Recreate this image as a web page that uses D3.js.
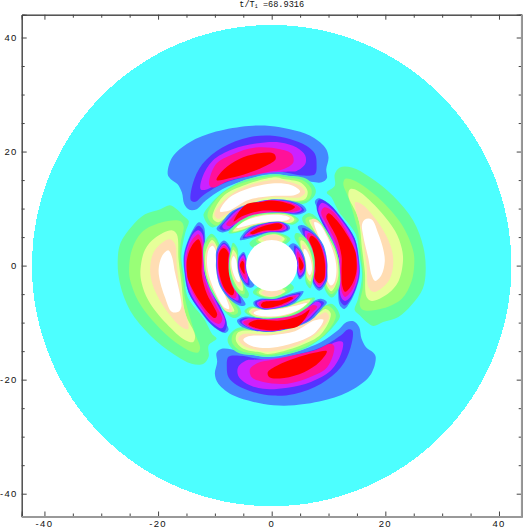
<!DOCTYPE html>
<html lang="en">
<head>
<meta charset="UTF-8">
<title>t/T1 contour</title>
<script src="https://d3js.org/d3.v7.min.js"></script>
<style>
    html, body { margin: 0; background: #fff; }
    svg { display: block; }
    .lbl { font: 9.5px "Liberation Sans", sans-serif; letter-spacing: 1.3px; fill: #111; }
    .ttl { font: 8.6px "Liberation Mono", monospace; fill: #111; }
</style>
</head>
<body>
<script>
const titleText = "t/T";
const titleSub = "1";
const titleValue = " =68.9316";
const majorTicks = [-40, -20, 0, 20, 40];
const minorTicks = [-35, -30, -25, -15, -10, -5, 5, 10, 15, 25, 30, 35];
const discRadius = 42.2;
const holeRadius = 4.5;

const coolLevels = ["#4488ff", "#5533ff", "#cc22ff", "#ff1199", "#ff0000"];
const warmLevels = ["#66ff99", "#99ff77", "#e6ff99", "#ffddb3", "#ffffff"];

// contours, outermost first; the lower half is the same lobes turned 180 degrees
const top6 = [
  [[-18.3,16],[-17.5,19],[-14.5,21.6],[-9.8,23.5],[-4,24.5],[-.3,24.5],[3.2,23.9],[6.7,22.8],[9.4,20.7],[10,19],[9.6,16.9],[9.7,15.3],[8.8,14.6],[5.6,15],[2.6,15.8],[-.3,16],[-4,15.2],[-8.7,13.4],[-11.6,11.4],[-13.2,9.9],[-14.5,9.8],[-15.4,10.8],[-15.8,12.8],[-16.6,14.3],[-17.8,15.2]],
  [[-14.2,11.4],[-13.9,14.3],[-12.2,17.8],[-8.7,20.7],[-4,22.5],[-.3,22.8],[3.2,22.2],[6.1,21],[7.6,19.6],[7.9,17.8],[7.6,16],[5.6,15.8],[2.6,16.3],[-.3,16.6],[-4,15.7],[-8.7,14.3],[-12.2,12.2],[-13.4,11.2]],
  [[-12.5,13.4],[-12.2,15.5],[-10.4,18.4],[-6.9,20.4],[-2.8,21.4],[1.5,21.6],[4.4,20.7],[5.9,19.3],[5.9,17.8],[4.4,16.6],[3.2,16.5],[-.3,16.3],[-4,15.8],[-8.7,14.6],[-11.6,13.3]],
  [[-11,14.2],[-9.8,17.8],[-6.9,19.5],[-2.8,20.7],[1.5,20.4],[3.5,19.6],[3.8,18.1],[2,16.9],[-.3,16.5],[-3.4,15.8],[-7.5,14.9],[-10.4,13.7]],
  [[-9.7,15],[-8.4,16.9],[-5.7,18.7],[-2.2,19.7],[.4,19.6],[.7,18.7],[-1,17.5],[-4,16.3],[-7.5,15.3]]
];
const right6 = [
  [[9.7,12.8],[11.1,14],[11.1,16],[12,17.2],[14.1,17.2],[17.3,15.5],[21.4,12.2],[24.9,7.9],[26.7,3.2],[27.1,-.9],[26.6,-4],[24.6,-6.9],[22.3,-9],[19.6,-9.9],[17.9,-10.6],[16.7,-9.9],[15.5,-8.7],[14.6,-7.8],[15.2,-5.8],[15.9,-1.7],[15.4,2],[14.8,5.5],[11.8,9.5],[10.5,12]],
  [[12.9,15.2],[13.8,15.2],[16.1,14],[19.6,11.1],[23.2,6.7],[24.9,2.6],[25.1,.5],[24.6,-2.8],[22.9,-5.8],[19.6,-7.5],[16.1,-7.8],[15.5,-6.9],[16,-4],[16.1,-1.5],[15.6,3],[15.2,6],[13.5,11.9],[12.6,14.3]],
  [[13.8,13.4],[15.2,13.1],[18.5,10.2],[21.7,6.1],[22.9,3],[23.1,.7],[22.3,-2.8],[20.5,-4.9],[17.6,-6.2],[16.7,-5.5],[16.4,-1.1],[15.9,3],[15.2,8.4],[13.5,12.2]],
  [[14.7,11.1],[15.8,10.8],[18.5,7.9],[20.8,3.8],[21.4,.7],[20.8,-2.3],[19.3,-4],[17.9,-4.6],[17,-3.7],[16.7,.1],[15.8,6.1],[14.7,10.2]],
  [[16.4,8.1],[17.6,8.1],[18.8,5.5],[19.6,3],[19.9,.7],[19.3,-1.7],[18.2,-2.7],[17.6,-1.7],[17,1.3],[16.1,5.3],[15.9,7.2]]
];
const top5 = [
  [[-12,9],[-11,10.5],[-8.7,12.8],[-5.1,14.9],[.7,16],[2.6,15.8],[5.9,15.3],[7.6,13.7],[7.7,12.6],[6.1,11],[2.6,10.7],[-.3,10.6],[-4,9.9],[-7.5,8.2],[-10.4,6.7],[-11.3,7.3],[-11.9,8.4]],
  [[-11.3,8.7],[-9.2,12.2],[-5.7,14.3],[.7,15.7],[2.6,15.5],[5.6,14.9],[7,13.4],[6.6,11.7],[2.6,11],[-.3,10.9],[-3.4,10.2],[-7.5,8.4],[-9.8,7]],
  [[-10.4,8.4],[-8.7,12],[-5.1,14],[.7,15.5],[2,15.2],[5,14.6],[6.3,13.1],[5.9,11.7],[2.6,11.4],[-.3,11.6],[-3.4,10.5],[-8.1,8.4],[-9.5,7.6]],
  [[-10.1,9],[-7.5,12.2],[-3.4,14.3],[1.3,15.1],[2.6,14.8],[5,14],[5.9,12.8],[5,12],[2,12],[-.3,12],[-4,11],[-8.1,8.9],[-9.5,8.2]],
  [[-9.1,9.5],[-7.6,11.8],[-4.1,13.5],[0,14.4],[3.5,14.1],[5,13],[4.1,12.4],[0,12.2],[-4.1,11.5],[-7.6,9.6]]
];
const right5 = [
  [[8.2,11.8],[10,10.9],[12.6,8],[14.7,4.5],[15.4,1],[15.5,-1.7],[14.9,-4],[13.8,-6.4],[12.8,-7.6],[12,-7],[11.7,-5],[12,-.2],[11.4,3.9],[10.3,6.8],[8.5,9.5],[7.6,11.2]],
  [[8.4,11.6],[10.2,10.7],[12.5,8],[14.6,4.8],[15.3,1],[15.4,-1.5],[14.8,-4],[13.7,-6.2],[12.9,-7],[12.1,-6.3],[11.8,-1],[11.6,1.6],[10.6,4],[9.2,6.8],[7.9,10.2]],
  [[8.8,11],[10.3,10.2],[12.4,7.8],[14.4,4.6],[15.2,1],[15.3,-1.5],[14.7,-3.8],[13.7,-5.7],[12.9,-6.2],[12.2,-5.5],[11.9,-1],[11.8,1.6],[10.8,4.2],[9.5,6.9],[8.2,9.8]],
  [[9.2,10.2],[10.6,9.6],[12.6,7],[14.2,4],[15,1],[15,-1.5],[14.5,-3.6],[13.6,-5],[12.9,-5.5],[12.3,-4.5],[12.1,-1],[12,1.6],[11,4.6],[9.8,7],[8.7,9.3]],
  [[10,9.2],[11.4,8],[13.5,5],[14.7,2.5],[14.9,1.3],[14.9,-1.1],[14.1,-3.4],[12.9,-4.6],[12.4,-3.5],[12.3,-.8],[12.3,1.6],[11.4,5],[10.1,7.4],[9.6,8.6]]
];
const top4 = [
  [[-9.7,6.4],[-8.8,7.6],[-6.9,9.6],[-3.4,11],[0,11.6],[3.2,11.4],[5.6,10.5],[6.1,9.6],[5,9],[2.6,9],[-.3,9],[-3.4,8.1],[-6.9,6.4],[-8.7,5.8]],
  [[-9.2,6.5],[-8.2,7.8],[-6.5,9.6],[-3.2,10.9],[0,11.55],[3.4,11.2],[5.2,10.3],[5.7,9.7],[4.8,9.2],[2.6,9.2],[-.3,9.2],[-3.4,8.4],[-6.8,6.8],[-8.4,6.1]],
  [[-8.7,6.8],[-7.6,8.2],[-5.9,9.8],[-2.8,11],[0,11.5],[3.3,11.1],[5,10.3],[5.3,9.8],[4.4,9.3],[2.6,9.3],[-.3,9.3],[-3,8.6],[-6.5,7.2],[-8,6.3]],
  [[-8,7.2],[-6.9,8.5],[-5.4,9.8],[-2.4,11],[0,11.45],[3,11.1],[4.7,10.3],[5,9.9],[4.1,9.5],[2.6,9.4],[-.3,9.4],[-2.8,8.9],[-6.2,7.5],[-7.4,6.9]],
  [[-6.7,7.7],[-4.7,10.6],[-1.6,11.2],[0,11.4],[2.6,11],[4.1,10.3],[2.9,9.6],[-1.8,9.6],[-5.3,8.6]]
];
const right4 = [
  [[5.4,8.5],[6.4,9.2],[7.5,8.8],[9.8,6],[11.4,2.7],[12,-.8],[11.9,-3.8],[10.6,-5.6],[9.3,-4],[9.4,-.8],[9,2.7],[7.4,5.6],[5.6,7.5]],
  [[6,8.3],[6.9,8.6],[8.5,7],[10.4,4.3],[11.7,1.5],[11.9,-1],[11.7,-3.6],[10.5,-5],[9.5,-3.8],[9.5,-.8],[9.2,2.5],[7.6,5.5],[6,7.6]],
  [[6.6,8],[7.6,7.9],[9.2,6],[11,3],[11.7,0],[11.6,-2.5],[10.5,-4.5],[9.6,-3.2],[9.6,-.8],[9.3,2.5],[7.9,5.4]],
  [[7,8.1],[8,8],[9.7,5.6],[11.2,2],[11.6,-1],[11.3,-3],[10.5,-4],[9.7,-3],[9.7,-.8],[9.4,2.3],[8.1,5]],
  [[7.5,7.6],[8.4,7.3],[9.8,5],[11.1,1.5],[11.4,-1],[11,-3],[10.4,-3.5],[9.8,-2.5],[9.8,-.8],[9.5,2.2],[8.3,5]]
];
const top3 = [
  [[-7.6,5.7],[-6.2,7.4],[-3.2,8.9],[1.5,9.3],[3.6,8.9],[4.8,8],[3.8,7.2],[1.5,7.5],[-2.6,7],[-5.6,5.9]],
  [[-7.1,5.8],[-5.8,7.3],[-3,8.8],[1.5,9.2],[3.4,8.8],[4.4,8],[3.6,7.4],[1.5,7.6],[-2.6,7.2],[-5.4,6.1]],
  [[-6.8,6],[-5.4,7.4],[-2.7,8.7],[1.4,9.1],[3.2,8.8],[4,8.1],[3.3,7.5],[1.4,7.7],[-2.5,7.3],[-5.2,6.3]],
  [[-6.5,6.3],[-5,7.6],[-2.4,8.7],[1.3,9],[3,8.7],[3.6,8.2],[3,7.7],[1.3,7.75],[-2.2,7.4],[-5,6.6]],
  [[-6.2,6.6],[-4.7,7.8],[-1.5,8.8],[1.2,8.9],[2.8,8.6],[3.2,8.3],[2.6,7.9],[1.2,7.8],[-1.5,7.6],[-4.4,7]]
];
const right3 = [
  [[5.3,7.1],[7.3,6],[9.1,3.6],[9.8,.4],[9.8,-.8],[9.7,-2.8],[8.4,-4.4],[7.2,-3],[7.2,-.8],[6.9,1],[6.6,3],[5.3,5.5],[4.6,6.8]],
  [[5.4,6.6],[6.3,6.3],[8.1,4.8],[9.4,2],[9.7,-.8],[9.5,-2.6],[8.4,-4],[7.3,-2.8],[7.3,-.8],[7.1,1],[6.8,3],[5.6,5.4]],
  [[5.9,6.1],[6.8,5.8],[8.3,4.4],[9.5,1.5],[9.6,-.8],[9.4,-2.5],[8.4,-3.8],[7.4,-2.6],[7.4,-.8],[7.2,1],[6.9,3],[5.9,5.1]],
  [[6.4,5.7],[7.3,5.4],[8.4,4.2],[9.4,1.2],[9.5,-.8],[9.3,-2.5],[8.4,-3.5],[7.5,-2.4],[7.5,-.8],[7.3,1],[7,3],[6.2,4.9]],
  [[6.9,5.2],[7.6,4.9],[8.5,3.7],[9.3,1],[9.4,-.8],[9.2,-2.4],[8.4,-3.1],[7.6,-2.2],[7.7,-.8],[7.5,1],[7.2,3],[6.6,4.5]]
];
const top2 = [
  [[-5.6,4.5],[-4.1,6.5],[-1.5,7.4],[1.5,7.7],[3.1,7],[3.2,6.4],[2.3,5.9],[-.9,5.6],[-4.1,4.7]],
  [[-5.1,4.8],[-3.9,6.3],[-1.5,7.3],[1.5,7.6],[2.8,6.9],[2.9,6.4],[2.1,6],[-.9,5.8],[-3.9,5]],
  [[-4.8,5.1],[-3.7,6.2],[-1.6,7.2],[1.5,7.5],[2.5,6.9],[2.6,6.5],[1.9,6.1],[-1,5.9],[-3.7,5.2]],
  [[-4.4,5.3],[-3.4,6.2],[-1.7,7.1],[1.5,7.45],[2.2,7],[2.3,6.6],[1.7,6.2],[-1.1,6],[-3.4,5.4]],
  [[-3.8,5.7],[-1.8,6.8],[1.4,7.4],[1.9,7],[1.5,6.4],[-1.5,6.1],[-3.4,5.5]]
];
const right2 = [
  [[4.3,5.7],[5.2,5.5],[6.5,4.2],[7.5,1.5],[7.5,-1],[7.2,-2.8],[6.8,-4],[6,-3],[5.9,-1],[5.6,1.5],[4.8,3.5],[4,5]],
  [[4.8,5],[5.5,4.9],[6.5,3.5],[7.3,1],[7.4,-1],[7.1,-2.6],[6.8,-3.4],[6.1,-2.5],[6,-1],[5.7,1.5],[5,3.2]],
  [[5.1,4.4],[5.7,4.2],[6.6,2.8],[7.2,.8],[7.3,-1],[7,-2.2],[6.8,-2.8],[6.2,-2],[6.05,-.8],[5.8,1.2],[5.2,3]],
  [[5.4,3.7],[5.9,3.5],[6.7,2],[7.2,.5],[7.2,-1],[6.9,-1.8],[6.7,-2.2],[6.3,-1.5],[6.1,-.6],[5.9,1],[5.4,2.6]],
  [[5.7,2.9],[6.1,2.7],[6.8,1.2],[7.1,-.5],[6.9,-1.4],[6.7,-1.7],[6.35,-1.2],[6.15,-.4],[6,1],[5.6,2.2]]
];
const top1 = [
  [[-3.9,3.9],[-2.2,5.2],[-.5,5.8],[1.8,5.6],[3.3,4.7],[2.5,3.8],[-3,3]],
  [[-2.8,4.3],[-1.5,5.2],[0,5.6],[1.6,5.4],[2.7,4.7],[2,4],[-2,3.8]],
  [[-2.4,4.5],[-1.2,5.2],[.2,5.5],[1.5,5.3],[2.3,4.7],[1.5,4],[-1.5,4]],
  [[-1.8,4.8],[-.8,5.3],[.3,5.4],[1.3,5.2],[1.8,4.8],[1,4.2],[-1,4.2]]
];
const right1 = [
  [[3.7,3.9],[4.6,3.5],[5.6,2],[6,0],[5.8,-1.5],[4.9,-2.4],[4.4,-1],[4.4,.5],[3.8,2.2],[3,3.3]],
  [[4,3.5],[4.7,3],[5.5,1.6],[5.9,0],[5.7,-1.3],[4.95,-2.1],[4.5,-1],[4.5,.5],[4,2.2]],
  [[4.3,3.1],[4.8,2.7],[5.5,1.3],[5.8,0],[5.6,-1.1],[5,-1.8],[4.6,-.9],[4.6,.5],[4.2,2]],
  [[4.55,2.5],[4.9,2.1],[5.5,1],[5.7,0],[5.5,-.8],[5.05,-1.3],[4.75,-.7],[4.7,.4],[4.4,1.6]],
  [[4.8,1.5],[5.2,1],[5.6,0],[5.4,-.6],[5.1,-.8],[4.85,-.4],[4.8,.4]]
];

// drawing order, outer rings first
const lobes = [
  [right6, warmLevels], [top6, coolLevels],
  [top5, warmLevels], [right5, coolLevels],
  [top4, coolLevels], [right4, warmLevels],
  [top3, warmLevels], [right3, coolLevels],
  [top2, coolLevels], [right2, warmLevels],
  [top1, warmLevels], [right1, coolLevels]
];

const width = 525, height = 529;
const x = d3.scaleLinear().domain([-44, 44]).range([21.7, 521.7]);
const y = d3.scaleLinear().domain([-44, 44]).range([516.5, 14.7]);

const svg = d3.select("body").append("svg")
    .attr("width", width)
    .attr("height", height);

// outer disc
svg.append("ellipse")
    .attr("cx", x(0))
    .attr("cy", y(0))
    .attr("rx", x(discRadius) - x(0))
    .attr("ry", y(0) - y(discRadius))
    .attr("fill", "#4dffff")
    .attr("shape-rendering", "crispEdges");

const line = d3.line().curve(d3.curveCatmullRomClosed.alpha(0.5));

[1, -1].forEach(turn => {
    lobes.forEach(([contours, levels]) => {
        svg.append("g").selectAll("path")
            .data(contours)
            .enter()
            .append("path")
            .attr("d", c => line(c.map(p => [x(turn * p[0]), y(turn * p[1])])))
            .attr("fill", (c, i) => levels[i]);
    });
});

// hole in the middle
svg.append("ellipse")
    .attr("cx", x(0))
    .attr("cy", y(0))
    .attr("rx", x(holeRadius) - x(0))
    .attr("ry", y(0) - y(holeRadius))
    .attr("fill", "#fff");

// frame and ticks
function ticks(axis, vals, len) {
    return axis.tickValues(vals).tickSize(len).tickFormat("");
}
const frame = [
    [d3.axisBottom(x), 0, y.range()[0]],
    [d3.axisTop(x), 0, y.range()[1]],
    [d3.axisLeft(y), x.range()[0], 0],
    [d3.axisRight(y), x.range()[1], 0]
];
frame.forEach(([axis, dx, dy]) => {
    const g = svg.append("g").attr("transform", `translate(${dx},${dy})`);
    g.call(ticks(axis.tickSizeOuter(0), minorTicks, -3));
    g.append("g").call(ticks(axis.tickSizeOuter(0), majorTicks, -5));
    g.selectAll("line").attr("stroke", "#444");
    g.selectAll("path").attr("stroke", "#444");
});
// the bottom and right edges are a softer, wider grey in the picture
svg.append("line").attr("x1", x.range()[0]).attr("x2", x.range()[1] + 1)
    .attr("y1", y.range()[0] + 0.5).attr("y2", y.range()[0] + 0.5)
    .attr("stroke", "#999").attr("stroke-width", 2);
svg.append("line").attr("x1", x.range()[1] + 0.2).attr("x2", x.range()[1] + 0.2)
    .attr("y1", y.range()[1]).attr("y2", y.range()[0])
    .attr("stroke", "#999").attr("stroke-width", 2);

// labels
svg.append("g").selectAll("text")
    .data(majorTicks)
    .enter()
    .append("text")
    .attr("class", "lbl")
    .attr("x", d => x(d))
    .attr("y", y.range()[0] + 10.5)
    .attr("text-anchor", "middle")
    .text(d => d);

svg.append("g").selectAll("text")
    .data(majorTicks)
    .enter()
    .append("text")
    .attr("class", "lbl")
    .attr("x", x.range()[0] - 4)
    .attr("y", d => y(d) + 3.5)
    .attr("text-anchor", "end")
    .text(d => d);

const title = svg.append("text")
    .attr("class", "ttl")
    .attr("x", x(0))
    .attr("y", 7)
    .attr("text-anchor", "middle");
title.append("tspan").text(titleText);
title.append("tspan").attr("font-size", "5px").attr("dy", 1).text(titleSub);
title.append("tspan").attr("dy", -1).text(titleValue);
</script>
</body>
</html>
